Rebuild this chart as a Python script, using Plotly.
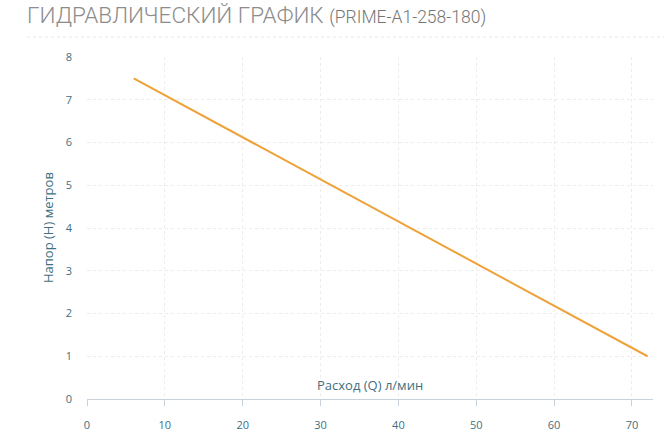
import plotly.graph_objects as go

flow = [6, 72]
head = [7.5, 1.0]
x_ticks = [0, 10, 20, 30, 40, 50, 60, 70]
y_ticks = [0, 1, 2, 3, 4, 5, 6, 7, 8]

title_main = "ГИДРАВЛИЧЕСКИЙ ГРАФИК"
title_model = "(PRIME-A1-258-180)"
x_title = "Расход (Q) л/мин"
y_title = "Напор (H) метров"

tick_color = "#3f6f80"
grid_color = "#ececec"

W, H = 664, 445
L, T, R, B = 87, 57, 11, 46
pw, ph = W - L - R, H - T - B

fig = go.Figure()
fig.add_trace(go.Scatter(x=flow, y=head, mode="lines",
                         line=dict(color="#eea23a", width=2), showlegend=False))

fig.update_layout(
    width=W, height=H,
    margin=dict(l=L, r=R, t=T, b=B),
    paper_bgcolor="white", plot_bgcolor="white",
    font=dict(family="Open Sans", color=tick_color, size=11),
    title=dict(
        text=f"{title_main} <span style='font-size:17.5px;color:#767676'>{title_model}</span>",
        x=27/W, xanchor="left", xref="container",
        y=1-15/H, yanchor="middle", yref="container",
        font=dict(family="Roboto", size=22.5, color="#8c8c8c", weight=300),
    ),
    xaxis=dict(
        range=[0, 72.7], tickvals=x_ticks, showgrid=True, gridcolor=grid_color,
        griddash="dot", gridwidth=1, zeroline=False, showline=True,
        linecolor="#c9d2da", linewidth=1, ticks="outside", ticklen=6,
        tickcolor="#c9d2da", ticklabelstandoff=10,
        tickfont=dict(size=11, color=tick_color),
    ),
    yaxis=dict(
        range=[0, 8], tickvals=y_ticks, showgrid=True, gridcolor=grid_color,
        griddash="dot", gridwidth=1, zeroline=False, showline=False,
        ticks="", ticklabelstandoff=14,
        tickfont=dict(size=11, color=tick_color),
    ),
    annotations=[
        dict(text=x_title, xref="paper", yref="paper", x=0.5, y=14/ph,
             xanchor="center", yanchor="middle", showarrow=False,
             font=dict(size=13, color=tick_color)),
        dict(text=y_title, xref="paper", yref="paper", x=(48-87)/pw, y=0.5,
             xanchor="center", yanchor="middle", showarrow=False, textangle=-90,
             font=dict(size=13, color=tick_color)),
    ],
    shapes=[
        dict(type="line", xref="paper", yref="paper",
             x0=(27-87)/pw, x1=(664-87)/pw, y0=(399-37)/ph, y1=(399-37)/ph,
             line=dict(color="#e6e6e6", width=1, dash="dot")),
    ],
)

fig.write_html("out.html", config={"displayModeBar": False},
               post_script="document.body.style.margin='0';")
